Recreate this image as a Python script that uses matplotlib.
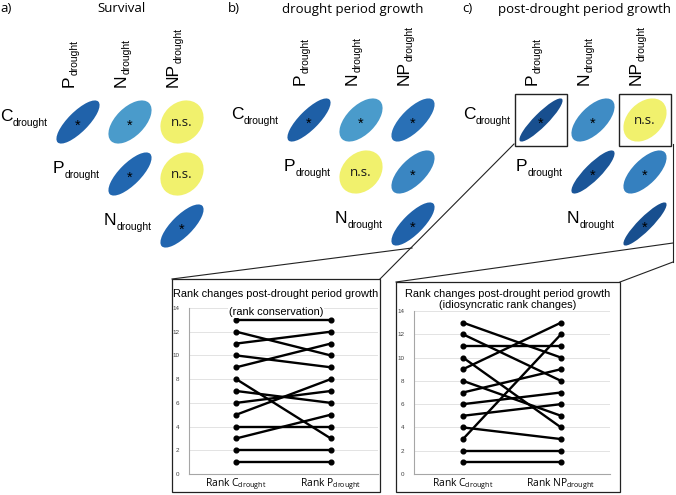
import matplotlib
matplotlib.use('Agg')
import matplotlib.pyplot as plt
from matplotlib.patches import Ellipse, Rectangle
from matplotlib.lines import Line2D
from matplotlib.colors import LinearSegmentedColormap
import numpy as np

W, H = 676, 495

# ---------------- data ----------------
row_names = ['C', 'P', 'N']
col_names = ['P', 'N', 'NP']
subscript = 'drought'
cells = [(0, 0), (0, 1), (0, 2), (1, 1), (1, 2), (2, 2)]   # (row, col)
panel_letters = ['a)', 'b)', 'c)']
panel_titles = ['Survival', 'drought period growth', 'post-drought period growth']

survival_r = [0.78, 0.55, 0.20, 0.75, 0.22, 0.76]
survival_sig = [True, True, False, True, False, True]
drought_r = [0.80, 0.55, 0.72, 0.25, 0.65, 0.78]
drought_sig = [True, True, True, False, True, True]
post_r = [0.90, 0.62, 0.35, 0.86, 0.67, 0.90]
post_sig = [True, True, False, True, True, True]
post_highlight = [(0, 0), (0, 2)]

rank_c = [13, 12, 11, 10, 9, 8, 7, 6, 5, 4, 3, 2, 1]
rank_p = [13, 10, 12, 9, 11, 3, 6, 7, 8, 4, 5, 2, 1]
rank_np = [10, 8, 11, 4, 13, 5, 9, 7, 6, 3, 12, 2, 1]
rank_yticks = [0, 2, 4, 6, 8, 10, 12, 14]
left_title = ['Rank changes post-drought period growth', '(rank conservation)']
right_title = ['Rank changes post-drought period growth', '(idiosyncratic rank changes)']
left_xlabels = [r'Rank C$_\mathregular{drought}$', r'Rank P$_\mathregular{drought}$']
right_xlabels = [r'Rank C$_\mathregular{drought}$', r'Rank NP$_\mathregular{drought}$']

# ---------------- style ----------------
cmap = LinearSegmentedColormap.from_list('corr', [
    (0.00, '#f1f16d'), (0.40, '#f1f16d'), (0.45, '#5aaad6'), (0.55, '#4a9bcb'),
    (0.65, '#3a86c2'), (0.75, '#2267b1'), (0.85, '#1b579b'), (1.00, '#123f78')])
ARIAL = 'Liberation Sans'
CAL = 'Open Sans'
plt.rcParams['font.family'] = ARIAL


def fbox(x0, y0, x1, y1):
    return [x0 / W, 1 - y1 / H, (x1 - x0) / W, (y1 - y0) / H]


def fpt(x, y):
    return x / W, 1 - y / H


fig = plt.figure(figsize=(W / 100, H / 100), dpi=100)
fig.patch.set_facecolor('white')

S = 0.83
CELL = 52


def grid_panel(cx0, ry0, r_vals, sig, highlight=()):
    ax = fig.add_axes(fbox(cx0 - CELL / 2, ry0 - CELL / 2, cx0 + 2.5 * CELL, ry0 + 2.5 * CELL))
    ax.set_xlim(-0.5, 2.5)
    ax.set_ylim(-2.5, 0.5)
    ax.axis('off')
    for (i, j), r, s in zip(cells, r_vals, sig):
        e = Ellipse((j, -i), S * np.sqrt(1 + r), S * np.sqrt(1 - r), angle=45,
                    facecolor=cmap(r), edgecolor='none', clip_on=False)
        ax.add_patch(e)
        if s:
            ax.text(j, -i - 0.08, '*', ha='center', va='center', fontsize=10.5, color='black')
        else:
            ax.text(j, -i, 'n.s.', ha='center', va='center', fontsize=9.5,
                    family=CAL, color='#1a1a1a')
    for (i, j) in highlight:
        ax.add_patch(Rectangle((j - 0.5, -i - 0.5), 1, 1, fill=False, edgecolor='#222222',
                               lw=1.0, clip_on=False))
    for j, name in enumerate(col_names):
        m = ax.text(j - 0.17, 0.68, name, rotation=90, ha='center', va='bottom', fontsize=12.5)
        ax.annotate(subscript, xy=(1, 1), xycoords=m, xytext=(2.2, 0),
                    textcoords='offset points', rotation=90, ha='right', va='bottom',
                    fontsize=7.5)
    for i, name in enumerate(row_names):
        sb = ax.text(i - 0.58, -i - 0.08, subscript, ha='right', va='baseline', fontsize=7.5)
        ax.annotate(name, xy=(0, 0), xycoords=sb, xytext=(-0.3, 5.0),
                    textcoords='offset points', ha='right', va='baseline', fontsize=12.5)
    return ax


grid_panel(78, 122, survival_r, survival_sig)
grid_panel(309, 120, drought_r, drought_sig)
grid_panel(541, 120, post_r, post_sig, post_highlight)

# panel letters and titles
for (lx, tx), letter, title in zip([(0, 121), (228, 353), (462, 584)], panel_letters, panel_titles):
    fig.text(*fpt(lx, 8), letter, ha='left', va='center', fontsize=9.5, family=CAL)
    fig.text(*fpt(tx, 9), title, ha='center', va='center', fontsize=9.5, family=CAL)


def rank_chart(box, axbox, title, title_y, xlabels, c_vals, o_vals):
    fig.add_artist(Rectangle(fpt(box[0], box[3]), (box[2] - box[0]) / W, (box[3] - box[1]) / H,
                             transform=fig.transFigure, fill=False, edgecolor='#222222',
                             lw=0.9, zorder=5))
    ax = fig.add_axes(fbox(*axbox))
    for c, o in zip(c_vals, o_vals):
        ax.plot([0, 1], [c, o], color='black', lw=1.7, marker='o', ms=3.4, zorder=3,
                solid_capstyle='round')
    ax.set_xlim(-0.5, 1.5)
    ax.set_ylim(0, 14)
    ax.set_yticks(rank_yticks)
    ax.set_yticklabels([str(t) for t in rank_yticks], fontsize=4.5, color='#404040')
    ax.set_xticks([0, 1])
    ax.set_xticklabels(xlabels, fontsize=7.4, family=CAL)
    ax.tick_params(axis='both', length=0)
    ax.tick_params(axis='y', pad=7)
    ax.tick_params(axis='x', pad=2)
    ax.grid(axis='y', color='#e3e3e3', lw=0.7)
    ax.set_axisbelow(True)
    for sp in ['top', 'right']:
        ax.spines[sp].set_visible(False)
    for sp in ['left', 'bottom']:
        ax.spines[sp].set_color('#a6a6a6')
        ax.spines[sp].set_linewidth(0.8)
    cx = (box[0] + box[2]) / 2
    for txt, ty in zip(title, title_y):
        fig.text(*fpt(cx, ty), txt, ha='center', va='baseline', fontsize=7.9, family=ARIAL,
                 zorder=4, bbox=dict(facecolor='white', edgecolor='none', pad=0.5))
    return ax


rank_chart((172, 279, 380, 492), (189, 308, 378, 474), left_title, [297, 315],
           left_xlabels, rank_c, rank_p)
rank_chart((396, 282, 620, 492), (414, 311, 610, 474), right_title, [297, 308],
           right_xlabels, rank_c, rank_np)

# connector lines
for (x0, y0), (x1, y1) in [((172, 279), (412, 248)), ((380, 279), (514, 144)),
                           ((396, 282), (673, 243)), ((620, 282), (673, 262)),
                           ((673, 144), (673, 262))]:
    p0, p1 = fpt(x0, y0), fpt(x1, y1)
    fig.add_artist(Line2D([p0[0], p1[0]], [p0[1], p1[1]], transform=fig.transFigure,
                          color='#222222', lw=0.8, zorder=6))

fig.savefig('out.png', dpi=100, facecolor='white')
